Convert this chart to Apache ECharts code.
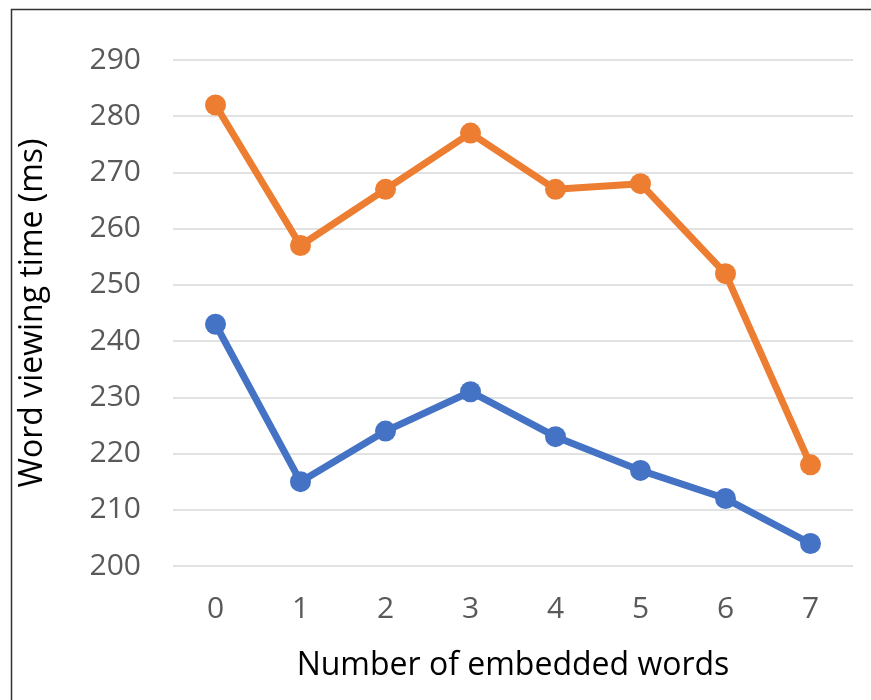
<!DOCTYPE html>
<html><head><meta charset="utf-8">
<script src="https://cdn.jsdelivr.net/npm/echarts@6/dist/echarts.min.js"></script>
<style>html,body{margin:0;padding:0;background:#fff}#c{width:871px;height:700px}</style>
</head><body><div id="c"></div>
<script>
const categories = ['0','1','2','3','4','5','6','7'];
const orangeSeries = [282, 257, 267, 277, 267, 268, 252, 218];
const blueSeries = [243, 215, 224, 231, 223, 217, 212, 204];
const yTicks = {min: 200, max: 290, interval: 10};

const font = 'Open Sans';
const chart = echarts.init(document.getElementById('c'), null, {renderer: 'canvas'});
chart.setOption({
  backgroundColor: '#fff',
  animation: false,
  graphic: [{
    type: 'rect', left: 9, top: 7, z: -1,
    shape: {width: 900, height: 720},
    style: {fill: 'none', stroke: '#333', lineWidth: 1.5}
  }],
  grid: {left: 173, right: 18, top: 60, bottom: 134},
  xAxis: {
    type: 'category', data: categories, boundaryGap: true,
    name: 'Number of embedded words', nameLocation: 'middle', nameGap: 84,
    nameTextStyle: {fontFamily: font, fontSize: 32, color: '#000'},
    axisLine: {show: false}, axisTick: {show: false},
    axisLabel: {fontFamily: font, fontSize: 30, color: '#595959', margin: 28}
  },
  yAxis: {
    type: 'value', min: yTicks.min, max: yTicks.max, interval: yTicks.interval,
    name: 'Word viewing time (ms)', nameLocation: 'middle', nameGap: 124,
    nameTextStyle: {fontFamily: font, fontSize: 32, color: '#000'},
    axisLine: {show: false}, axisTick: {show: false},
    axisLabel: {fontFamily: font, fontSize: 30, color: '#595959', margin: 32},
    splitLine: {lineStyle: {color: '#d9d9d9', width: 1.5}}
  },
  series: [
    {type: 'line', data: orangeSeries, symbol: 'circle', symbolSize: 21,
     lineStyle: {color: '#ED7D31', width: 7}, itemStyle: {color: '#ED7D31'}},
    {type: 'line', data: blueSeries, symbol: 'circle', symbolSize: 21,
     lineStyle: {color: '#4472C4', width: 7}, itemStyle: {color: '#4472C4'}}
  ]
});
</script></body></html>
